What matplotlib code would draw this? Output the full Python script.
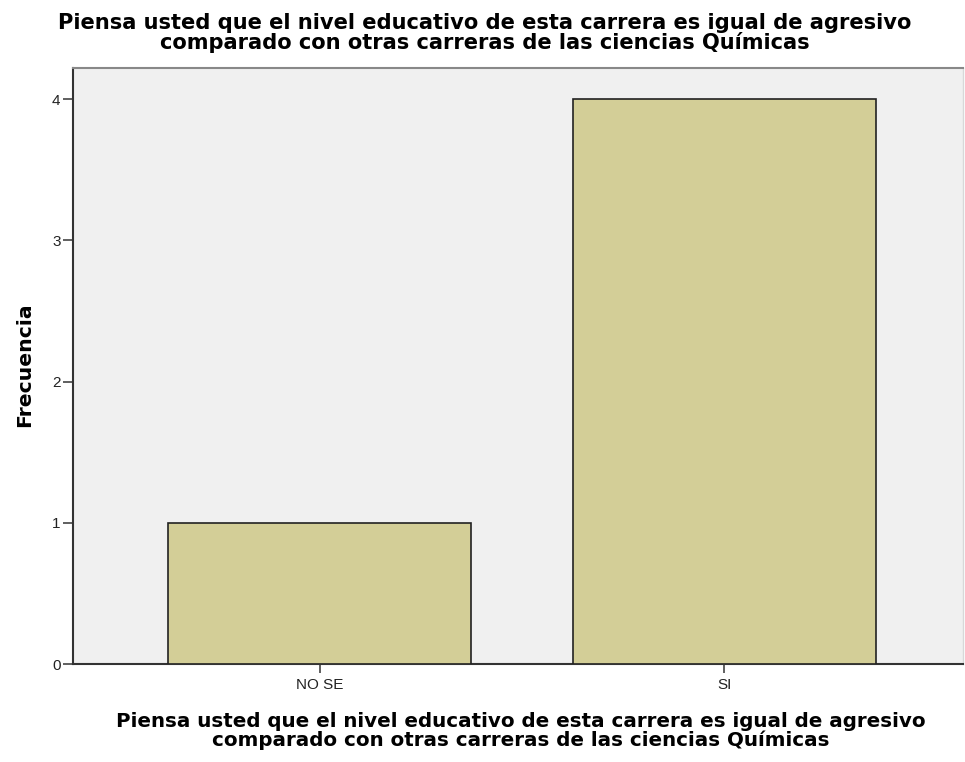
import matplotlib
matplotlib.use("Agg")
import matplotlib.pyplot as plt

categories = ["NO SE", "SI"]
frequencies = [1, 4]
y_ticks = [0, 1, 2, 3, 4]
title_text = ("Piensa usted que el nivel educativo de esta carrera es igual de agresivo\n"
              "comparado con otras carreras de las ciencias Químicas")
x_label = title_text
y_label = "Frecuencia"

plt.rcParams['font.family'] = ['DejaVu Sans']

W, H = 965, 762
fig = plt.figure(figsize=(W / 100, H / 100), dpi=100)
l, r, t, b = 73, 963, 68, 664
ax = fig.add_axes([l / W, 1 - b / H, (r - l) / W, (b - t) / H])
ax.set_facecolor("#F0F0F0")

x = list(range(len(categories)))
ax.bar(x, frequencies, width=0.75, color="#D3CE97", edgecolor="#222222", linewidth=1.2, zorder=3)

ax.set_xlim(-0.61, 1.59)
ax.set_ylim(0, 4.22)
ax.set_xticks(x)
ax.set_yticks(y_ticks)
tick_font = dict(family=['Liberation Sans'], size=11, color="#222222")
ax.set_xticklabels(categories, **tick_font)
ax.set_yticklabels([str(v) for v in y_ticks], **tick_font)
ax.tick_params(axis="x", direction="out", length=6.5, width=1.2, color="#444444", pad=3.5)
ax.tick_params(axis="y", direction="out", length=7.5, width=1.2, color="#444444", pad=1.5)

for side in ("left", "bottom"):
    ax.spines[side].set_color("#333333")
    ax.spines[side].set_linewidth(1.5)
ax.spines["top"].set_color("#888888")
ax.spines["top"].set_linewidth(1.5)
ax.spines["right"].set_color("#D8D8D8")
ax.spines["right"].set_linewidth(1.0)

renderer = fig.canvas.get_renderer()


def fit(txt, target_px):
    w = txt.get_window_extent(renderer).width
    txt.set_fontsize(txt.get_fontsize() * target_px / w)


ttl = fig.text(485 / W, 1 - 33 / H, title_text, ha="center", va="center", fontsize=12,
               fontweight="bold", linespacing=0.92)
fit(ttl, 854)
xl = fig.text(521 / W, 1 - 731 / H, x_label, ha="center", va="center", fontsize=12,
              fontweight="bold", linespacing=0.92)
fit(xl, 807)
yl = fig.text(25 / W, 1 - 365 / H, y_label, ha="center", va="center", rotation=90,
              fontsize=12, fontweight="bold")
ext = yl.get_window_extent(renderer)
yl.set_fontsize(yl.get_fontsize() * 124 / ext.height)

fig.savefig("out.png", dpi=100)
